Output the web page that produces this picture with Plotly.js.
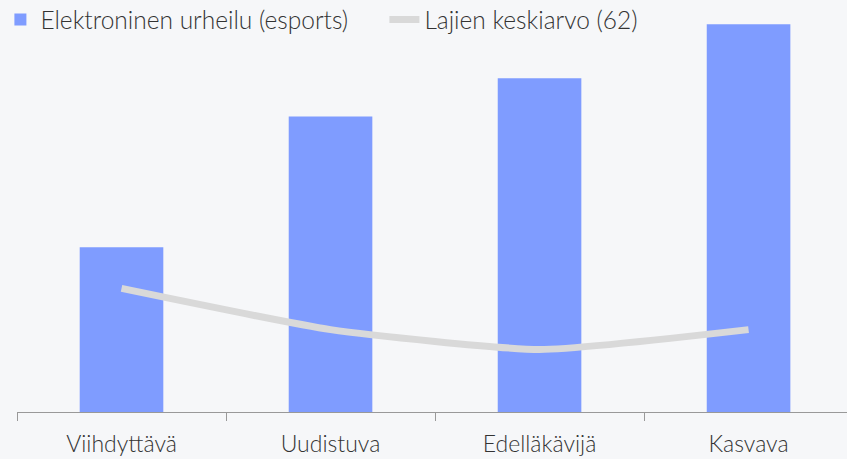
<!DOCTYPE html>
<html>
<head>
<meta charset="utf-8">
<script src="https://cdn.plot.ly/plotly-3.0.1.min.js"></script>
<style>html,body{margin:0;padding:0;background:#f6f7f9;}#chart{width:847px;height:459px;}</style>
</head>
<body>
<div id="chart"></div>
<script>
const categories = ["Viihdyttävä", "Uudistuva", "Edelläkävijä", "Kasvava"];
const esportsValues = [116, 208, 235, 273];
const averageValues = [87, 58, 44, 58];
const barName = "Elektroninen urheilu (esports)";
const lineName = "Lajien keskiarvo (62)";

const traces = [
  {
    type: "bar",
    x: [0, 1, 2, 3],
    y: esportsValues,
    name: barName,
    marker: {color: "#7f9cff"},
    width: 0.4,
    hoverinfo: "y"
  },
  {
    type: "scatter",
    mode: "lines",
    x: [0, 1, 2, 3],
    y: averageValues,
    name: lineName,
    line: {color: "#d9d9d9", width: 7, shape: "spline", smoothing: 0.5},
    hoverinfo: "y"
  }
];

const layout = {
  width: 847,
  height: 459,
  paper_bgcolor: "#f6f7f9",
  plot_bgcolor: "#f6f7f9",
  margin: {l: 17, r: 0, t: 10, b: 47, autoexpand: false},
  font: {family: "Lato, 'Open Sans', sans-serif", size: 23, color: "#333333", weight: 300},
  showlegend: true,
  legend: {
    orientation: "h",
    x: -0.02, y: 1.032,
    xanchor: "left", yanchor: "top",
    bgcolor: "rgba(0,0,0,0)",
    font: {size: 24.5, color: "#333333", weight: 300},
    itemwidth: 30,
    entrywidth: 339,
    entrywidthmode: "pixels",
    traceorder: "normal"
  },
  xaxis: {
    range: [-0.5, 3.471],
    tickmode: "array",
    tickvals: [0, 1, 2, 3],
    ticktext: categories,
    showline: true,
    linecolor: "#999999",
    linewidth: 1,
    ticks: "",
    showgrid: false,
    zeroline: false,
    automargin: false,
    ticklabelstandoff: 11,
    tickfont: {size: 23, color: "#333333", weight: 300},
    fixedrange: true,
    minor: {tickmode: "array", tickvals: [-0.5, 0.5, 1.5, 2.5], ticks: "outside", ticklen: 8, tickcolor: "#999999", showgrid: false}
  },
  yaxis: {
    range: [0, 283],
    visible: false,
    showgrid: false,
    zeroline: false,
    fixedrange: true
  }
};

Plotly.newPlot("chart", traces, layout, {displayModeBar: false, staticPlot: true});
</script>
</body>
</html>
